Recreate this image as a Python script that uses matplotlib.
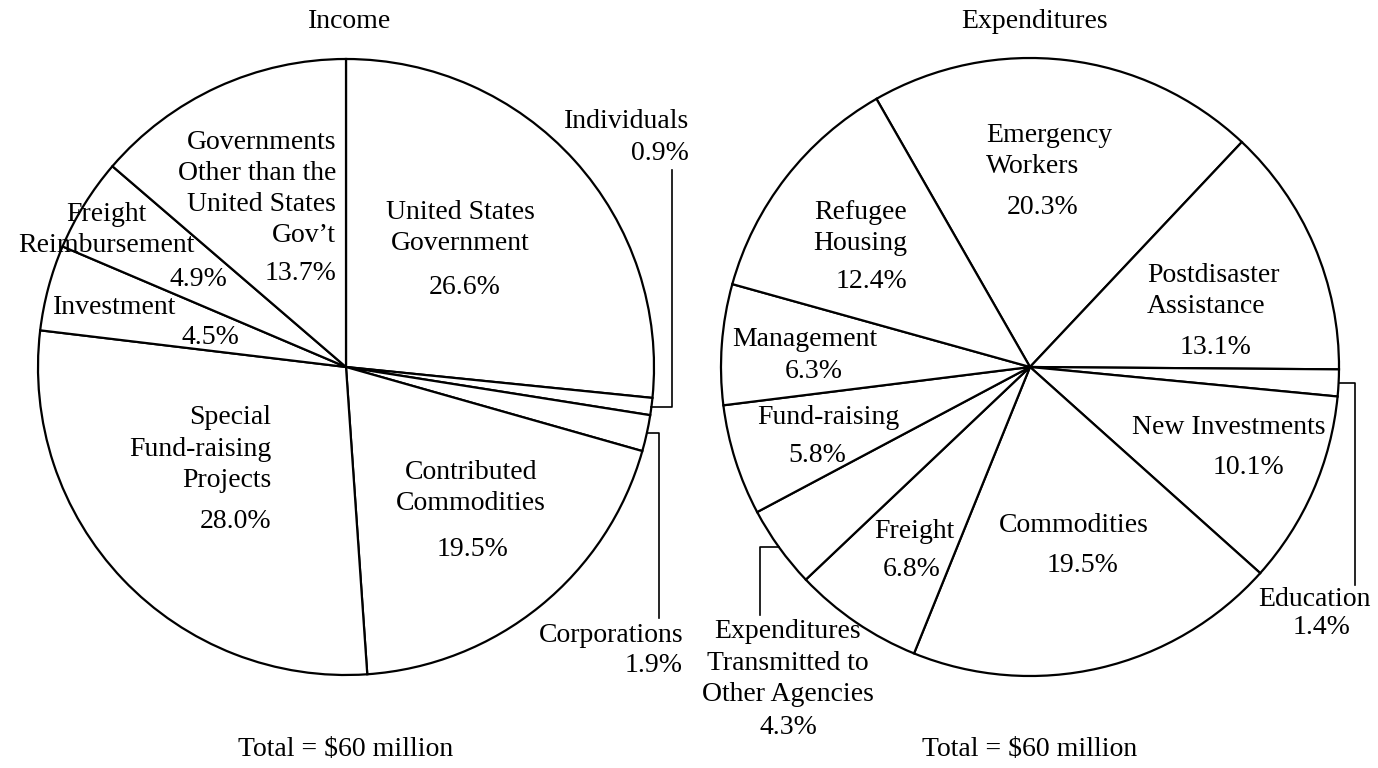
import numpy as np
import matplotlib
matplotlib.use("Agg")
import matplotlib.pyplot as plt

plt.rcParams['font.family'] = ['Liberation Serif', 'DejaVu Serif']

W, H = 1378, 768

# Income shares (percent), clockwise from 12 o'clock
income_labels = ["United States\nGovernment", "Individuals", "Corporations",
                 "Contributed\nCommodities", "Special\nFund-raising\nProjects",
                 "Investment", "Freight\nReimbursement",
                 "Governments\nOther than the\nUnited States\nGov\u2019t"]
income_values = [26.6, 0.9, 1.9, 19.5, 28.0, 4.5, 4.9, 13.7]

# Expenditure shares (percent), clockwise from Emergency Workers
exp_labels = ["Emergency\nWorkers", "Postdisaster\nAssistance", "Education",
              "New Investments", "Commodities", "Freight",
              "Expenditures\nTransmitted to\nOther Agencies", "Fund-raising",
              "Management", "Refugee\nHousing"]
exp_values = [20.3, 13.1, 1.4, 10.1, 19.5, 6.8, 4.3, 5.8, 6.3, 12.4]

total_text = "Total = $60 million"

# label placement in pixel coords (x, y from top, ha) for name and percent
income_name_pos = [(460, 228, 'center'), (689, 121, 'right'), (683, 635, 'right'),
                   (471, 488, 'center'), (271, 449, 'right'), (115, 308, 'center'),
                   (106, 230, 'center'), (336, 189, 'right')]
income_pct_pos = [(465, 287, 'center'), (689, 154, 'right'), (683, 665, 'right'),
                  (473, 550, 'center'), (271, 522, 'right'), (210, 338, 'center'),
                  (198, 280, 'center'), (336, 273, 'right')]
exp_name_pos = [(986, 151, 'left'), (1147, 291, 'left'), (1314, 600, 'center'),
                (1229, 427, 'center'), (1074, 525, 'center'), (914, 532, 'center'),
                (788, 663, 'center'), (828, 418, 'center'), (805, 340, 'center'),
                (907, 228, 'right')]
exp_pct_pos = [(1043, 208, 'center'), (1216, 347, 'center'), (1322, 628, 'center'),
               (1248, 467, 'center'), (1083, 565, 'center'), (912, 570, 'center'),
               (788, 727, 'center'), (817, 455, 'center'), (814, 372, 'center'),
               (907, 282, 'right')]

FS = 20


def py(y):
    return H - y


def draw_pie(ax, values, labels, name_pos, pct_pos, center, radius, start, title, title_x):
    wedges, _ = ax.pie(values, startangle=start, counterclock=False,
                       center=(center[0], py(center[1])), radius=radius,
                       wedgeprops=dict(facecolor='white', edgecolor='black',
                                       linewidth=1.6))
    for lab, v, npos, ppos in zip(labels, values, name_pos, pct_pos):
        ax.text(npos[0], py(npos[1]), lab, ha=npos[2], va='center',
                multialignment=npos[2], fontsize=FS, linespacing=1.33)
        ax.text(ppos[0], py(ppos[1]), f"{v:.1f}%", ha=ppos[2], va='center',
                fontsize=FS)
    ax.text(title_x, py(22), title, ha='center', va='center', fontsize=FS)
    ax.text(center[0], py(750), total_text, ha='center', va='center', fontsize=FS)
    return wedges


def leader(ax, wedge, center, radius, xs, y_end):
    mid = np.deg2rad((wedge.theta1 + wedge.theta2) / 2)
    x0 = center[0] + radius * np.cos(mid)
    y0 = py(center[1]) + radius * np.sin(mid)
    ax.plot([x0, xs, xs], [y0, y0, py(y_end)], color='black', lw=1.2)


fig = plt.figure(figsize=(13.78, 7.68), dpi=100)
ax = fig.add_axes([0, 0, 1, 1])

c1, r1 = (346, 367), 308
c2, r2 = (1030, 367), 309
w1 = draw_pie(ax, income_values, income_labels, income_name_pos, income_pct_pos,
              c1, r1, 90, "Income", 350)
w2 = draw_pie(ax, exp_values, exp_labels, exp_name_pos, exp_pct_pos,
              c2, r2, 119.8, "Expenditures", 1035)

# leader lines for the thin slices
leader(ax, w1[1], c1, r1, 672, 170)
leader(ax, w1[2], c1, r1, 659, 618)
leader(ax, w2[2], c2, r2, 1355, 585)
leader(ax, w2[6], c2, r2, 760, 615)

ax.set_xlim(0, W)
ax.set_ylim(0, H)
ax.set_aspect('equal')
ax.axis('off')

fig.savefig("out.png", dpi=100, facecolor='white')
